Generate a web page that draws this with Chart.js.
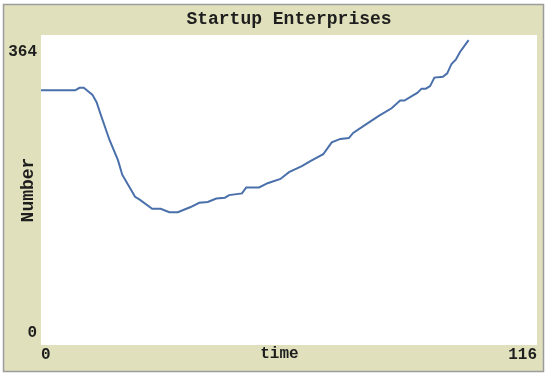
<!DOCTYPE html>
<html>
<head>
<meta charset="utf-8">
<title>Startup Enterprises</title>
<script src="https://cdn.jsdelivr.net/npm/chart.js@4/dist/chart.umd.min.js"></script>
<style>
    html, body { margin: 0; padding: 0; background: #ffffff; }
    canvas { display: block; }
</style>
</head>
<body>
<canvas id="plot" width="550" height="376"></canvas>
<script>
const times = [0, 8, 9, 10, 11, 12, 13, 14, 16, 18, 19, 22, 23, 26, 28, 30, 32, 34, 35, 37,
    39, 41, 43, 44, 47, 48, 51, 53, 56, 58, 61, 63, 66, 68, 70, 72, 73, 76, 79, 82,
    84, 85, 87, 88, 89, 90, 91, 92, 94, 95, 96, 97, 98, 100];
const counts = [299, 299, 302, 302, 298, 294, 285, 270, 241, 217, 200, 174, 171, 160, 160, 156, 156, 160, 162, 167,
    168, 172, 173, 176, 178, 185, 185, 190, 195, 203, 210, 216, 224, 238, 242, 243, 249, 259, 269, 278,
    287, 287, 293, 296, 301, 301, 304, 314, 315, 319, 330, 335, 344, 358];
const xTicks = [0, 116];
const yTicks = [0, 364];

const panelColor = 'rgb(224, 224, 188)';
const textColor = '#1e1e1e';
const monoFont = '"Liberation Mono", "DejaVu Sans Mono", monospace';

// beige panel with grey frame, white plotting area
const panelPlugin = {
    id: 'panel',
    beforeDraw(chart) {
        const { ctx, chartArea } = chart;
        ctx.save();
        ctx.fillStyle = '#ffffff';
        ctx.fillRect(0, 0, chart.width, chart.height);
        ctx.fillStyle = panelColor;
        ctx.fillRect(3.5, 4.5, 540, 367);
        ctx.strokeStyle = '#9c9c9c';
        ctx.lineWidth = 1.5;
        ctx.strokeRect(3.5, 4.5, 540, 367);
        ctx.fillStyle = '#ffffff';
        ctx.fillRect(chartArea.left, chartArea.top, chartArea.right - chartArea.left, chartArea.bottom - chartArea.top);
        ctx.restore();
    },
    afterDraw(chart) {
        // y labels sit inside the ends of the axis
        const { ctx } = chart;
        const y = chart.scales.y;
        ctx.save();
        ctx.font = 'bold 16px ' + monoFont;
        ctx.fillStyle = textColor;
        ctx.textAlign = 'right';
        ctx.textBaseline = 'middle';
        y.ticks.forEach(t => {
            const py = y.getPixelForValue(t.value);
            const shift = t.value === y.max ? 17 : -12.5;
            ctx.fillText(String(t.value), 37, py + shift);
        });
        ctx.restore();
    }
};

const points = times.map((t, i) => ({ x: t, y: counts[i] }));

new Chart(document.getElementById('plot').getContext('2d'), {
    type: 'line',
    data: {
        datasets: [{
            data: points,
            borderColor: '#4a70ab',
            borderWidth: 2,
            pointRadius: 0,
            tension: 0,
            fill: false
        }]
    },
    options: {
        responsive: false,
        animation: false,
        devicePixelRatio: 1,
        layout: { padding: { left: 0, right: 13, top: 0, bottom: 0 } },
        plugins: {
            legend: { display: false },
            tooltip: { enabled: false },
            title: {
                display: true,
                text: 'Startup Enterprises',
                fullSize: false,
                color: textColor,
                font: { family: monoFont, size: 18, weight: 'bold', lineHeight: 1.2 },
                padding: { top: 9, bottom: 4.4 }
            }
        },
        scales: {
            x: {
                type: 'linear',
                min: xTicks[0],
                max: xTicks[1],
                afterBuildTicks: scale => { scale.ticks = xTicks.map(v => ({ value: v })); },
                afterFit: scale => { scale.height = 31; },
                grid: { display: false, drawTicks: false },
                border: { display: false },
                ticks: {
                    align: 'inner',
                    padding: 0,
                    maxRotation: 0,
                    color: textColor,
                    font: { family: monoFont, size: 16, weight: 'bold' }
                },
                title: {
                    display: true,
                    text: 'time  ',
                    color: textColor,
                    font: { family: monoFont, size: 16, weight: 'bold', lineHeight: 1.2 },
                    padding: { top: 0, bottom: 12.4 }
                }
            },
            y: {
                type: 'linear',
                min: yTicks[0],
                max: yTicks[1],
                afterBuildTicks: scale => { scale.ticks = yTicks.map(v => ({ value: v })); },
                afterFit: scale => { scale.width = 41; },
                grid: { display: false, drawTicks: false },
                border: { display: false },
                ticks: { display: false },
                title: {
                    display: true,
                    text: 'Number',
                    color: textColor,
                    font: { family: monoFont, size: 18, weight: 'bold', lineHeight: 1.2 },
                    padding: { top: 18, bottom: 0 }
                }
            }
        }
    },
    plugins: [panelPlugin]
});
</script>
</body>
</html>
